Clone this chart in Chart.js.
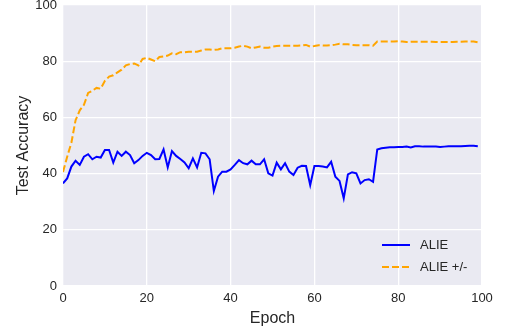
<!DOCTYPE html>
<html>
<head>
<meta charset="utf-8">
<script src="https://cdn.jsdelivr.net/npm/chart.js@4/dist/chart.umd.min.js"></script>
<style>
  html, body { margin: 0; padding: 0; background: #ffffff; }
  #wrap { width: 508px; height: 328px; }
</style>
</head>
<body>
<div id="wrap"><canvas id="chart" width="508" height="328"></canvas></div>
<script>
// Test accuracy per epoch for the two runs
const epochs = Array.from({ length: 100 }, (_, i) => i);

const alie = [
  36.5, 38.3, 42.5, 44.6, 43.1, 46.0, 46.9, 45.1, 46.0, 45.7,
  48.4, 48.4, 43.9, 47.8, 46.3, 47.8, 46.6, 43.7, 44.8, 46.3,
  47.4, 46.6, 45.1, 45.2, 48.6, 42.2, 48.0, 46.3, 45.2, 44.0,
  41.9, 45.4, 42.2, 47.4, 47.2, 45.1, 33.8, 38.9, 40.7, 40.7,
  41.5, 43.1, 44.8, 43.7, 43.3, 44.6, 43.3, 43.3, 45.1, 40.1,
  39.3, 43.9, 41.5, 43.7, 40.7, 39.5, 42.1, 42.8, 42.7, 35.9,
  42.7, 42.7, 42.5, 42.2, 44.2, 38.9, 37.4, 31.2, 39.7, 40.5,
  40.1, 36.5, 37.7, 38.0, 37.1, 48.6, 49.0, 49.2, 49.4, 49.4,
  49.5, 49.5, 49.6, 49.3, 49.7, 49.7, 49.6, 49.6, 49.6, 49.6,
  49.5, 49.6, 49.7, 49.7, 49.7, 49.7, 49.8, 49.9, 49.9, 49.7
];

const alieSign = [
  40.6, 46.0, 51.0, 59.0, 62.5, 64.5, 68.7, 69.5, 70.5, 70.2,
  73.0, 74.5, 75.0, 76.0, 77.0, 78.5, 79.0, 79.2, 78.5, 80.8,
  81.2, 80.6, 80.0, 81.5, 81.7, 82.0, 82.8, 82.5, 83.2, 83.2,
  83.4, 83.4, 83.4, 83.8, 84.2, 84.2, 84.0, 84.2, 84.6, 84.6,
  84.6, 84.8, 85.2, 85.5, 85.2, 84.6, 84.9, 85.2, 84.8, 84.8,
  85.2, 85.4, 85.5, 85.5, 85.5, 85.5, 85.5, 85.6, 85.8, 85.2,
  85.4, 85.7, 85.6, 85.6, 85.7, 85.9, 86.2, 86.0, 86.0, 85.8,
  85.7, 85.7, 85.7, 85.7, 85.5, 87.0, 87.0, 87.0, 87.0, 87.0,
  87.1, 87.0, 86.8, 86.9, 86.9, 86.9, 86.9, 86.9, 86.9, 86.8,
  86.8, 86.8, 86.8, 86.8, 86.9, 86.9, 87.0, 87.0, 87.0, 86.7
];

const seriesLabels = ['ALIE', 'ALIE +/-'];
const xTicks = [0, 20, 40, 60, 80, 100];
const yTicks = [0, 20, 40, 60, 80, 100];

const FONT = '"Liberation Sans", Arial, sans-serif';
const TEXT = '#262626';

const toPoints = arr => arr.map((v, i) => ({ x: epochs[i], y: v }));

// Grey plotting panel behind the grid
const panelBg = {
  id: 'panelBg',
  beforeDraw(chart) {
    const { ctx, chartArea: a } = chart;
    ctx.save();
    ctx.fillStyle = '#EAEAF2';
    ctx.fillRect(a.left, a.top, a.right - a.left, a.bottom - a.top);
    ctx.restore();
  }
};

// Legend in the lower right corner of the plotting panel
const cornerLegend = {
  id: 'cornerLegend',
  afterDraw(chart) {
    const { ctx, chartArea: a } = chart;
    const x0 = a.right - 100, x1 = a.right - 72, tx = a.right - 62;
    const rows = [a.bottom - 41, a.bottom - 19];
    ctx.save();
    chart.data.datasets.forEach((ds, i) => {
      const y = rows[i];
      ctx.strokeStyle = ds.borderColor;
      ctx.lineWidth = ds.borderWidth;
      ctx.setLineDash(ds.borderDash || []);
      ctx.beginPath();
      ctx.moveTo(x0, y);
      ctx.lineTo(x1, y);
      ctx.stroke();
      ctx.setLineDash([]);
      ctx.fillStyle = TEXT;
      ctx.font = '13px ' + FONT;
      ctx.textBaseline = 'middle';
      ctx.textAlign = 'left';
      ctx.fillText(ds.label, tx, y);
    });
    ctx.restore();
  }
};

new Chart(document.getElementById('chart'), {
  type: 'line',
  data: {
    datasets: [
      {
        label: seriesLabels[0],
        data: toPoints(alie),
        borderColor: '#0000FF',
        borderWidth: 2,
        pointRadius: 0,
        tension: 0,
        fill: false
      },
      {
        label: seriesLabels[1],
        data: toPoints(alieSign),
        borderColor: '#FFA500',
        borderWidth: 2,
        borderDash: [7, 3],
        pointRadius: 0,
        tension: 0,
        fill: false
      }
    ]
  },
  options: {
    responsive: false,
    animation: false,
    layout: { padding: { top: 5, right: 26, left: 14, bottom: 0 } },
    plugins: {
      legend: { display: false },
      tooltip: { enabled: false }
    },
    scales: {
      x: {
        type: 'linear',
        min: 0,
        max: 100,
        afterFit(scale) { scale.height = 42; scale.paddingLeft = 0; scale.paddingRight = 0; },
        afterBuildTicks(scale) { scale.ticks = xTicks.map(v => ({ value: v })); },
        grid: { color: '#FFFFFF', lineWidth: 1.3, drawTicks: false },
        border: { display: false },
        ticks: { color: TEXT, font: { family: FONT, size: 13 }, padding: 5, maxRotation: 0 },
        title: { display: true, text: 'Epoch', color: TEXT, font: { family: FONT, size: 16 }, padding: { top: 1, bottom: 0 } }
      },
      y: {
        min: 0,
        max: 100,
        afterFit(scale) { scale.width = 49; scale.paddingTop = 0; scale.paddingBottom = 0; },
        afterBuildTicks(scale) { scale.ticks = yTicks.map(v => ({ value: v })); },
        grid: { color: '#FFFFFF', lineWidth: 1.3, drawTicks: false },
        border: { display: false },
        ticks: { color: TEXT, font: { family: FONT, size: 13 }, padding: 6 },
        title: { display: true, text: 'Test Accuracy', color: TEXT, font: { family: FONT, size: 16 }, padding: { top: 0, bottom: 4 } }
      }
    }
  },
  plugins: [panelBg, cornerLegend]
});
</script>
</body>
</html>
